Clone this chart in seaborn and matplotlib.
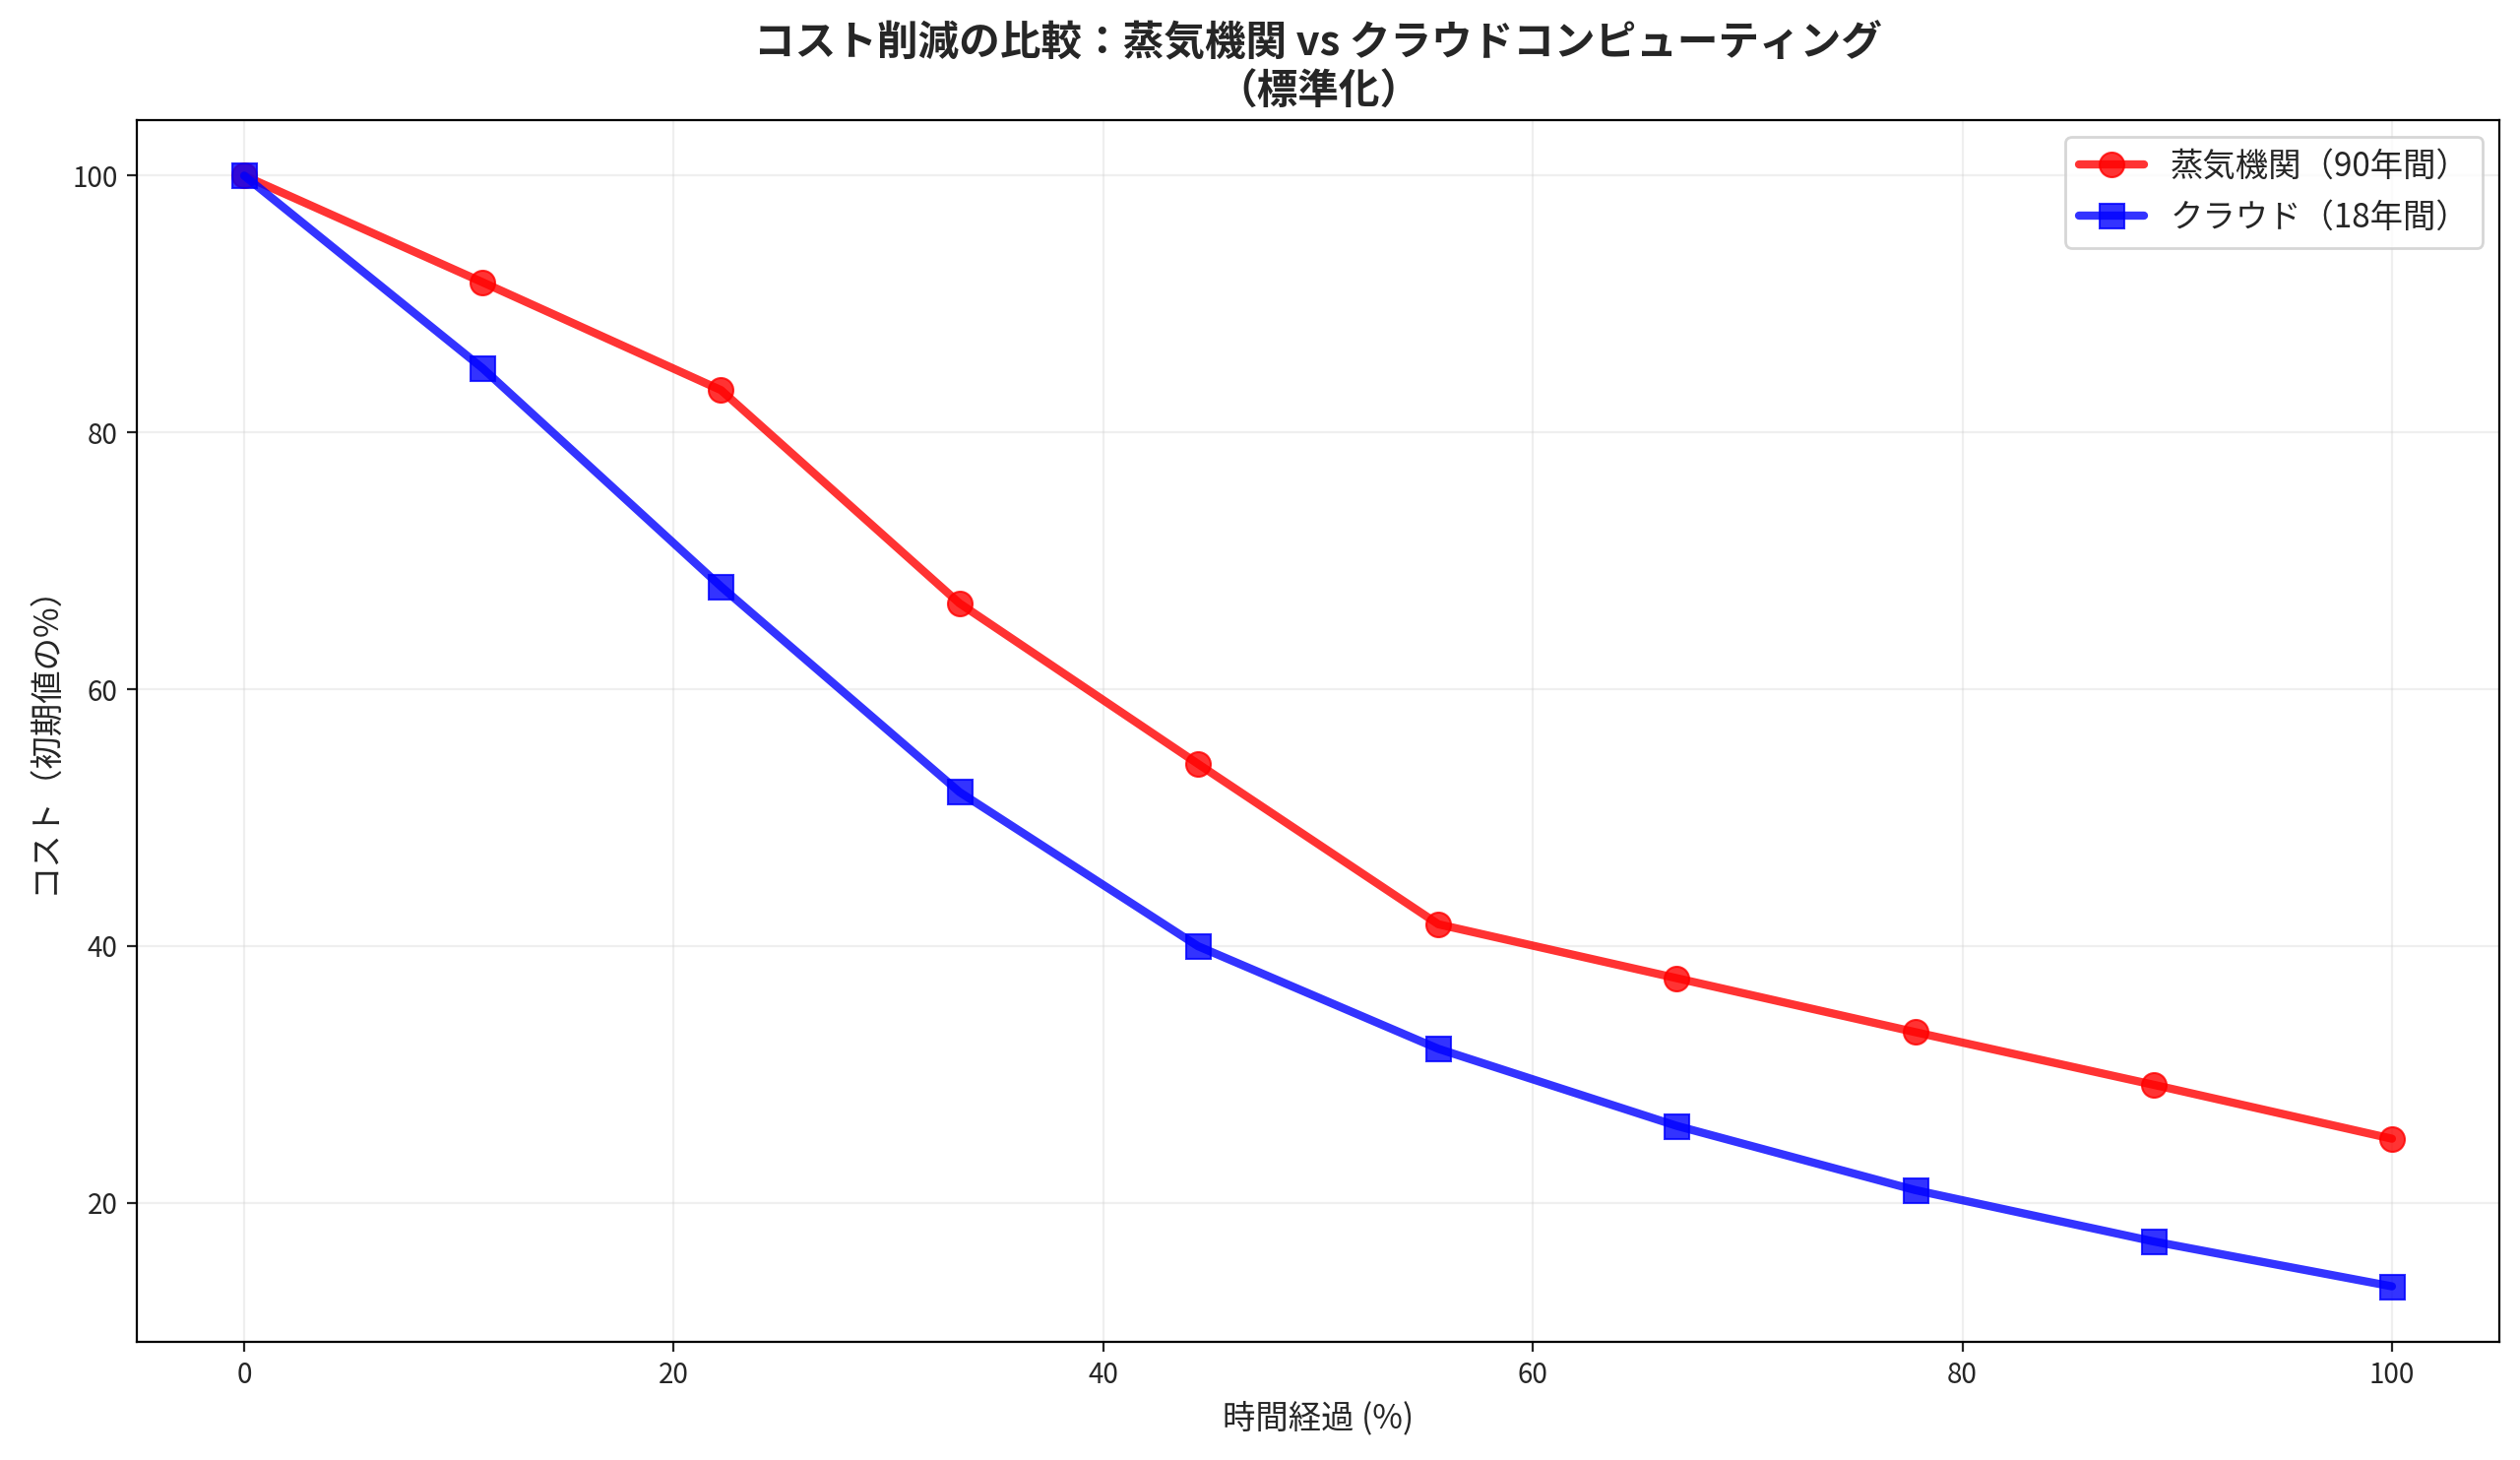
import numpy as np
import pandas as pd
import matplotlib
matplotlib.use("Agg")
import matplotlib.pyplot as plt
import seaborn as sns

# time elapsed (% of period) and normalised cost
time_pct = [0, 11.1, 22.2, 33.3, 44.4, 55.6, 66.7, 77.8, 88.9, 100]
steam_cost = [100, 91.7, 83.3, 66.7, 54.2, 41.7, 37.5, 33.3, 29.2, 25.0]
cloud_cost = [100, 85, 68, 52, 40, 32, 26, 21, 17, 13.5]
steam_label = "蒸気機関（90年間）"
cloud_label = "クラウド（18年間）"

sns.set_style("ticks")
plt.rcParams["font.family"] = ["Noto Sans CJK JP", "DejaVu Sans"]

fig, ax = plt.subplots(figsize=(12.8, 7.415), dpi=200)
fig.subplots_adjust(left=0.0543, right=0.9918, top=0.9177, bottom=0.0809)

sns.lineplot(x=time_pct, y=steam_cost, ax=ax, color="red", marker="o",
             markersize=9, linewidth=3, alpha=0.8, label=steam_label,
             markeredgecolor="red")
sns.lineplot(x=time_pct, y=cloud_cost, ax=ax, color="blue", marker="s",
             markersize=9, linewidth=3, alpha=0.8, label=cloud_label,
             markeredgecolor="blue")

ax.set_title("コスト削減の比較：蒸気機関 vs クラウドコンピューティング\n（標準化）",
             fontsize=15, fontweight="bold")
ax.set_xlabel("時間経過 (%)", fontsize=12)
ax.set_ylabel("コスト（初期値の%）", fontsize=12)
ax.tick_params(labelsize=10)
ax.grid(True, alpha=0.3)
for s in ax.spines.values():
    s.set_visible(True)
    s.set_color("black")
ax.legend(fontsize=12, loc="upper right")

fig.savefig("out.png", dpi=200)
